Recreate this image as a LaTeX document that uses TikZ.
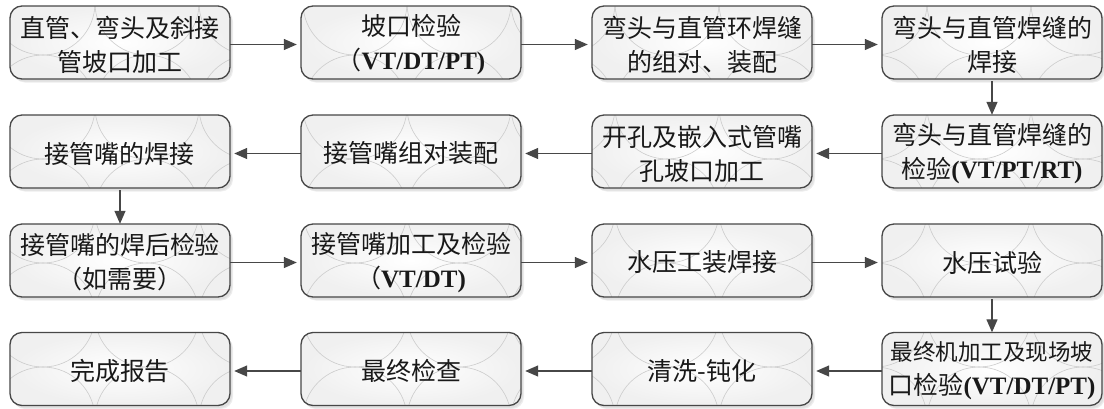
\documentclass[tikz,border=0pt]{standalone}
\usepackage{fontspec}
\setmainfont{Liberation Serif}
\newfontfamily\cjk{Noto Sans CJK SC}
\usetikzlibrary{arrows.meta}
\newcommand\lat[1]{{\rmfamily\bfseries #1}}
\tikzset{
  boxframe/.style={draw=black!72, line width=1.3pt, rounded corners=12pt},
  boxtext/.style={minimum width=220pt, minimum height=73pt, align=center, inner sep=0pt,
    font=\cjk\fontsize{25}{34}\selectfont, text=black!90, yshift=-2pt},
  arr/.style={draw=black!72, line width=1.3pt, -{Triangle[length=13pt,width=11pt]}, shorten >=4pt},
}
% \bx{name}{x}{y}{text}
\newcommand\bx[4]{%
  \fill[black!7, rounded corners=12pt] (#2-107,#3-33) rectangle (#2+113,#3+40);
  \fill[black!12, rounded corners=12pt] (#2-108,#3-34) rectangle (#2+112,#3+39);
  \shade[inner color=white, outer color=black!6, rounded corners=12pt] (#2-110,#3-36.5) rectangle (#2+110,#3+36.5);
  \begin{scope}
    \clip[rounded corners=12pt] (#2-110,#3-36.5) rectangle (#2+110,#3+36.5);
    \foreach \i in {-1,...,11}{\foreach \j in {-4,...,1}{
      \draw[black!20, line width=0.6pt] (43+104*\i,315+104*\j) circle (52);}}
  \end{scope}
  \draw[boxframe] (#2-110,#3-36.5) rectangle (#2+110,#3+36.5);
  \node[boxtext] (#1) at (#2,#3) {#4};
}
\begin{document}
\begin{tikzpicture}[x=1pt,y=-1pt]
\useasboundingbox (0,0) rectangle (1104,408);
% row 1
\bx{a1}{120}{42.5}{直管、弯头及斜接\\管坡口加工}
\bx{a2}{411}{42.5}{坡口检验\\（\lat{VT/DT/PT)}}
\bx{a3}{702}{42.5}{弯头与直管环焊缝\\的组对、装配}
\bx{a4}{992}{42.5}{弯头与直管焊缝的\\焊接}
% row 2
\bx{b1}{120}{151.5}{接管嘴的焊接}
\bx{b2}{411}{151.5}{接管嘴组对装配}
\bx{b3}{702}{151.5}{开孔及嵌入式管嘴\\孔坡口加工}
\bx{b4}{992}{151.5}{弯头与直管焊缝的\\检验\lat{(VT/PT/RT)}}
% row 3
\bx{c1}{120}{260.5}{接管嘴的焊后检验\\（如需要）}
\bx{c2}{411}{260.5}{接管嘴加工及检验\\（\lat{VT/DT)}}
\bx{c3}{702}{260.5}{水压工装焊接}
\bx{c4}{992}{260.5}{水压试验}
% row 4
\bx{d1}{120}{369}{完成报告}
\bx{d2}{411}{369}{最终检查}
\bx{d3}{702}{369}{清洗-钝化}
\bx{d4}{992}{369}{{\fontsize{22.5}{34}\selectfont 最终机加工及现场坡}\\口检验\lat{(VT/DT/PT)}}
% connectors
\draw[arr] (a1) -- (a2);
\draw[arr] (a2) -- (a3);
\draw[arr] (a3) -- (a4);
\draw[arr, shorten >=2pt] (a4) -- (b4);
\draw[arr] (b4) -- (b3);
\draw[arr] (b3) -- (b2);
\draw[arr] (b2) -- (b1);
\draw[arr, shorten >=2pt] (b1) -- (c1);
\draw[arr] (c1) -- (c2);
\draw[arr] (c2) -- (c3);
\draw[arr] (c3) -- (c4);
\draw[arr, shorten >=2pt] (c4) -- (d4);
\draw[arr] (d4) -- (d3);
\draw[arr] (d3) -- (d2);
\draw[arr] (d2) -- (d1);
\end{tikzpicture}
\end{document}
